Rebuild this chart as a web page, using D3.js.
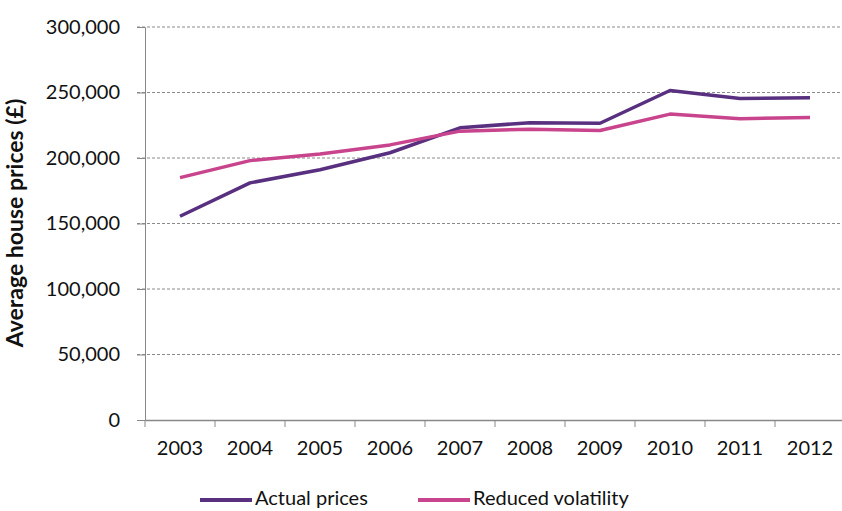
<!DOCTYPE html>
<html><head><meta charset="utf-8">
<script src="https://cdn.jsdelivr.net/npm/d3@7"></script>
<style>body{margin:0;background:#fff}svg{display:block}</style>
</head><body>
<svg id="c" width="842" height="511"></svg>
<script>
const years = ["2003","2004","2005","2006","2007","2008","2009","2010","2011","2012"];
const actualPrices = [155500,181000,191000,204000,223000,227000,226500,251500,245500,246000];
const reducedVolatility = [185000,198000,203000,210000,220500,222000,221000,233500,230000,231000];
const yTicks = [0,50000,100000,150000,200000,250000,300000];
const seriesNames = ["Actual prices","Reduced volatility"];
const seriesColors = ["#58307f","#c8448c"];

const svg = d3.select("#c");
const font = "Lato, 'Open Sans', sans-serif";
const x = d3.scaleBand().domain(years).range([145, 845]).padding(0);
const y = d3.scaleLinear().domain([0, 300000]).range([420, 27]);

// gridlines
svg.append("g").selectAll("line").data(yTicks.filter(d => d > 0)).join("line")
  .attr("x1", 137).attr("x2", 842)
  .attr("y1", d => y(d)).attr("y2", d => y(d))
  .attr("stroke", "#8a8a8a").attr("stroke-width", 1).attr("stroke-dasharray", "3,2");

// y axis
const yAxis = svg.append("g").attr("transform", "translate(145,0)")
  .call(d3.axisLeft(y).tickValues(yTicks).tickSize(8).tickPadding(17).tickFormat(d3.format(",")));
yAxis.select(".domain").attr("stroke", "#888");
yAxis.selectAll(".tick line").attr("stroke", "#888");
yAxis.selectAll("text").attr("font-family", font).attr("font-size", 20).attr("fill", "#111");

// x axis
const xAxis = svg.append("g").attr("transform", "translate(0,420)")
  .call(d3.axisBottom(x).tickSize(0).tickPadding(21));
xAxis.select(".domain").attr("stroke", "#888").attr("stroke-width", 1.5);
xAxis.selectAll("text").attr("font-family", font).attr("font-size", 20).attr("fill", "#111");
// boundary tick marks
svg.append("g").selectAll("line").data(years).join("line")
  .attr("x1", d => x(d)).attr("x2", d => x(d))
  .attr("y1", 420).attr("y2", 427).attr("stroke", "#888");

// y title
svg.append("text").attr("transform", "translate(17,223) rotate(-90)")
  .attr("text-anchor", "middle").attr("dominant-baseline", "middle")
  .attr("font-family", font).attr("font-weight", "bold").attr("font-size", 23).attr("fill", "#111")
  .text("Average house prices (£)");

// lines
const line = d3.line().x((d, i) => x(years[i]) + x.bandwidth() / 2).y(d => y(d));
[actualPrices, reducedVolatility].forEach((s, i) => {
  svg.append("path").datum(s).attr("d", line).attr("fill", "none")
    .attr("stroke", seriesColors[i]).attr("stroke-width", 3.5).attr("stroke-linejoin", "round");
});

// legend
const legX = [200, 418];
seriesNames.forEach((n, i) => {
  svg.append("line").attr("x1", legX[i]).attr("x2", legX[i] + 52).attr("y1", 500).attr("y2", 500)
    .attr("stroke", seriesColors[i]).attr("stroke-width", 4);
  svg.append("text").attr("x", legX[i] + 55).attr("y", 500).attr("dominant-baseline", "middle")
    .attr("font-family", font).attr("font-size", 20).attr("fill", "#111").text(n);
});
</script>
</body></html>
